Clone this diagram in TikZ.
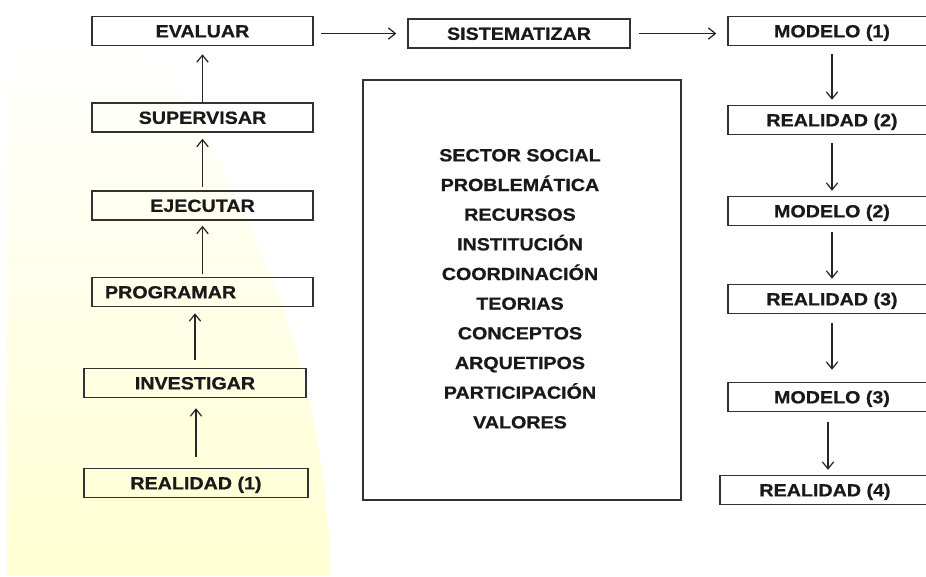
\documentclass[tikz,border=0pt]{standalone}
\usepackage{fontspec}
\newfontfamily\cajafont{Liberation Sans Bold}[FakeStretch=1.12,FakeBold=0.8]
\usetikzlibrary{arrows.meta,calc}
\tikzset{>={Straight Barb[length=4pt,width=6.5pt]}}
\definecolor{fondo}{RGB}{255,255,210}
\definecolor{linea}{RGB}{50,50,50}
\tikzset{
  caja/.style={draw=linea,line width=0.85pt,minimum width=4.42cm,minimum height=0.58cm,
    inner sep=0pt,text height=7.2pt,text depth=0pt,
    font=\cajafont\fontsize{10}{12}\selectfont,text=black!90},
  cajader/.style={caja,minimum width=4.16cm},
  lista/.style={font=\cajafont\fontsize{10}{12}\selectfont,text=black!90,
    text height=7.2pt,text depth=0pt,inner sep=0pt},
  flecha/.style={->,line width=0.7pt,draw=black!85}
}

\begin{document}
\begin{tikzpicture}[x=0.02cm,y=-0.02cm]
  \useasboundingbox (0,0) rectangle (926,576);
  \clip (0,0) rectangle (926,576);
  % fondo amarillo
  \shade[top color=white,middle color=fondo!80,bottom color=fondo]
    (7,40) -- (7,575) -- (330,575) .. controls (328,400) and (270,230) .. (150,40) -- cycle;
  % columna izquierda
  \node[caja] (eva) at (202.5,31) {EVALUAR};
  \node[caja] (sup) at (202.5,117.5) {SUPERVISAR};
  \node[caja] (eje) at (202.5,205.5) {EJECUTAR};
  \node[caja,text width=3.9cm,inner xsep=0.26cm,align=left] (prog) at (202.5,292) {PROGRAMAR};
  \node[caja,minimum width=4.44cm] (inv) at (195,383) {INVESTIGAR};
  \node[caja,minimum width=4.48cm] (rea1) at (196,483) {REALIDAD (1)};
  \draw[flecha,shorten >=0.16cm] (sup.north) -- (eva.south);
  \draw[flecha,shorten <=0.06cm,shorten >=0.12cm] (eje.north) -- (sup.south);
  \draw[flecha,shorten <=0.06cm,shorten >=0.10cm] (prog.north) -- (eje.south);
  \draw[flecha,shorten <=0.16cm,shorten >=0.12cm] (inv.north) -- (inv.north |- prog.south);
  \draw[flecha,shorten <=0.22cm,shorten >=0.20cm] (rea1.north) -- (rea1.north |- inv.south);
  % fila superior
  \node[caja,minimum width=4.44cm] (sis) at (519,33.5) {SISTEMATIZAR};
  \draw[flecha,shorten <=0.14cm,shorten >=0.22cm] (sis.west -| eva.east) -- (sis.west);
  % recuadro central
  \node[draw=linea,line width=0.85pt,minimum width=6.36cm,minimum height=8.4cm] (marco) at (522,290) {};
  \foreach \t [count=\i] in {SECTOR SOCIAL,PROBLEMÁTICA,RECURSOS,INSTITUCIÓN,COORDINACIÓN,
      TEORIAS,CONCEPTOS,ARQUETIPOS,PARTICIPACIÓN,VALORES}
    \node[lista] (f\i) at (520,{155+(\i-1)*29.67}) {\t};
  % columna derecha
  \node[cajader] (mod1) at (832,31) {MODELO (1)};
  \node[cajader] (rea2) at (832,120) {REALIDAD (2)};
  \node[cajader] (mod2) at (832,211) {MODELO (2)};
  \node[cajader] (rea3) at (832,299) {REALIDAD (3)};
  \node[cajader] (mod3) at (832,397) {MODELO (3)};
  \node[cajader,minimum width=4.2cm] (rea4) at (825,490) {REALIDAD (4)};
  \draw[flecha,shorten <=0.16cm,shorten >=0.22cm] (sis.east) -- (sis.east -| mod1.west);
  \draw[flecha,shorten <=0.16cm,shorten >=0.10cm] (mod1.south) -- (rea2.north);
  \draw[flecha,shorten <=0.16cm,shorten >=0.10cm] (rea2.south) -- (mod2.north);
  \draw[flecha,shorten <=0.12cm,shorten >=0.10cm] (mod2.south) -- (rea3.north);
  \draw[flecha,shorten <=0.18cm,shorten >=0.24cm] (rea3.south) -- (mod3.north);
  \draw[flecha,shorten <=0.20cm,shorten >=0.10cm] ([xshift=-0.08cm]mod3.south) -- ([xshift=-0.08cm]mod3.south |- rea4.north);
\end{tikzpicture}
\end{document}
